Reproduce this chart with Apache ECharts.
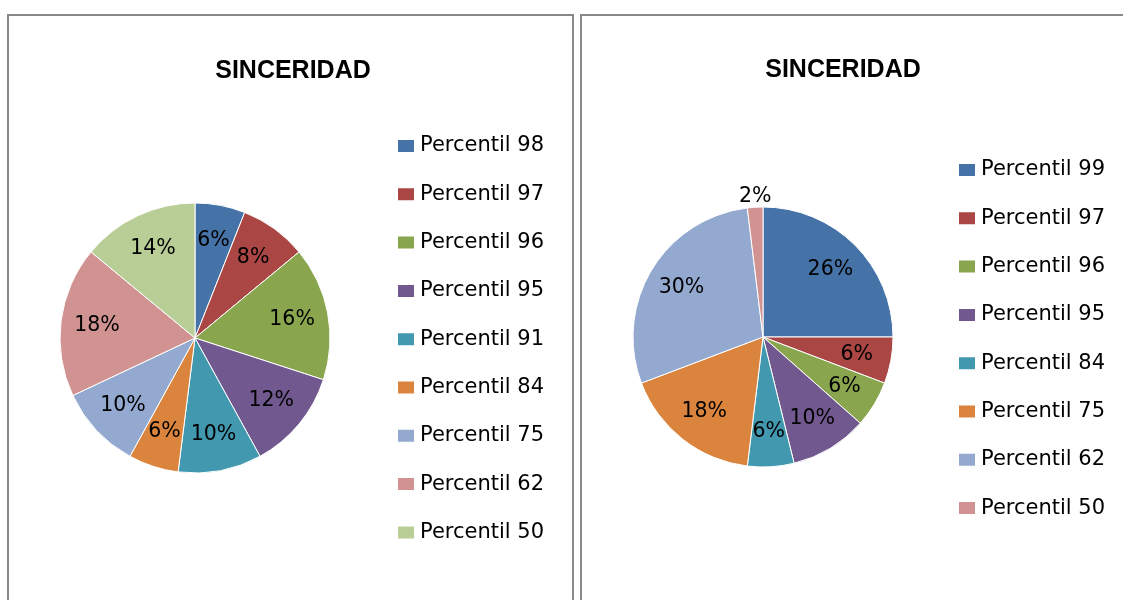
<!DOCTYPE html>
<html>
<head>
<meta charset="utf-8">
<script src="https://cdn.jsdelivr.net/npm/echarts@6/dist/echarts.min.js"></script>
<style>
  html, body { margin: 0; padding: 0; background: #fff; }
  #c1 { position: absolute; left: 0; top: 0; width: 577px; height: 600px; }
  #c2 { position: absolute; left: 577px; top: 0; width: 546px; height: 600px; }
</style>
</head>
<body>
<div id="c1"></div>
<div id="c2"></div>
<script>
// ---- data ----
const titleText = 'SINCERIDAD';
const leftCategories = ['Percentil 98', 'Percentil 97', 'Percentil 96', 'Percentil 95', 'Percentil 91', 'Percentil 84', 'Percentil 75', 'Percentil 62', 'Percentil 50'];
const leftValues = [6, 8, 16, 12, 10, 6, 10, 18, 14];
const rightCategories = ['Percentil 99', 'Percentil 97', 'Percentil 96', 'Percentil 95', 'Percentil 84', 'Percentil 75', 'Percentil 62', 'Percentil 50'];
const rightValues = [26, 6, 6, 10, 6, 18, 30, 2];
const palette = ['#4572A7', '#AA4643', '#89A54E', '#71588F', '#4198AF', '#DB843D', '#93A9CF', '#D19392', '#B9CD96'];

const FONT = 'DejaVu Sans';

function buildOption(cfg) {
  const data = cfg.categories.map((n, i) => ({ name: n, value: cfg.values[i] }));
  const labelData = cfg.categories.map((n, i) => {
    const item = { name: n, value: cfg.values[i] };
    if (cfg.values[i] < 4) {
      item.label = { position: 'outside' };
    }
    return item;
  });
  return {
    animation: false,
    color: palette,
    graphic: [{
      type: 'rect',
      shape: cfg.box,
      style: { fill: 'none', stroke: '#888888', lineWidth: 2 },
      silent: true
    }],
    title: {
      text: titleText,
      left: cfg.titleX,
      top: cfg.titleY,
      textAlign: 'center',
      padding: 0,
      textStyle: { fontFamily: 'Liberation Sans', fontWeight: 'bold', fontSize: 25, color: '#000' }
    },
    legend: {
      orient: 'vertical',
      left: cfg.legendX,
      top: cfg.legendY,
      padding: 0,
      itemWidth: 18,
      itemHeight: 14,
      itemGap: 27.3,
      icon: 'rect',
      selectedMode: false,
      data: cfg.categories.map((n, i) => ({ name: n, itemStyle: { color: palette[i] } })),
      textStyle: { fontFamily: FONT, fontSize: 21, lineHeight: 20, color: '#000' }
    },
    series: [{
      type: 'pie',
      center: cfg.center,
      radius: [0, cfg.r],
      startAngle: 90,
      clockwise: true,
      avoidLabelOverlap: false,
      label: { show: false },
      labelLine: { show: false },
      itemStyle: { borderColor: '#ffffff', borderWidth: 1 },
      emphasis: { disabled: true },
      data: data
    }, {
      type: 'pie',
      center: cfg.center,
      radius: [cfg.r * 0.42, cfg.r],
      startAngle: 90,
      clockwise: true,
      silent: true,
      avoidLabelOverlap: false,
      itemStyle: { color: 'rgba(0,0,0,0)', borderWidth: 0 },
      emphasis: { disabled: true },
      label: {
        show: true,
        position: 'inside',
        formatter: p => p.value + '%',
        fontFamily: FONT,
        fontSize: 20.5,
        color: '#000',
        distanceToLabelLine: 0
      },
      labelLine: { show: false, length: 0, length2: 0 },
      labelLayout: function (p) {
        if (cfg.values[p.dataIndex] < 4) {
          return { align: 'center', verticalAlign: 'bottom' };
        }
        return {};
      },
      data: labelData
    }]
  };
}

const c1 = echarts.init(document.getElementById('c1'), null, { renderer: 'canvas' });
c1.setOption(buildOption({
  categories: leftCategories,
  values: leftValues,
  box: { x: 8, y: 15, width: 565, height: 700 },
  titleX: 293, titleY: 58.5,
  legendX: 396, legendY: 135.5,
  center: [195, 338], r: 135
}));

const c2 = echarts.init(document.getElementById('c2'), null, { renderer: 'canvas' });
c2.setOption(buildOption({
  categories: rightCategories,
  values: rightValues,
  box: { x: 4, y: 15, width: 700, height: 700 },
  titleX: 266, titleY: 58,
  legendX: 380, legendY: 159.5,
  center: [186, 337], r: 130
}));
</script>
</body>
</html>
